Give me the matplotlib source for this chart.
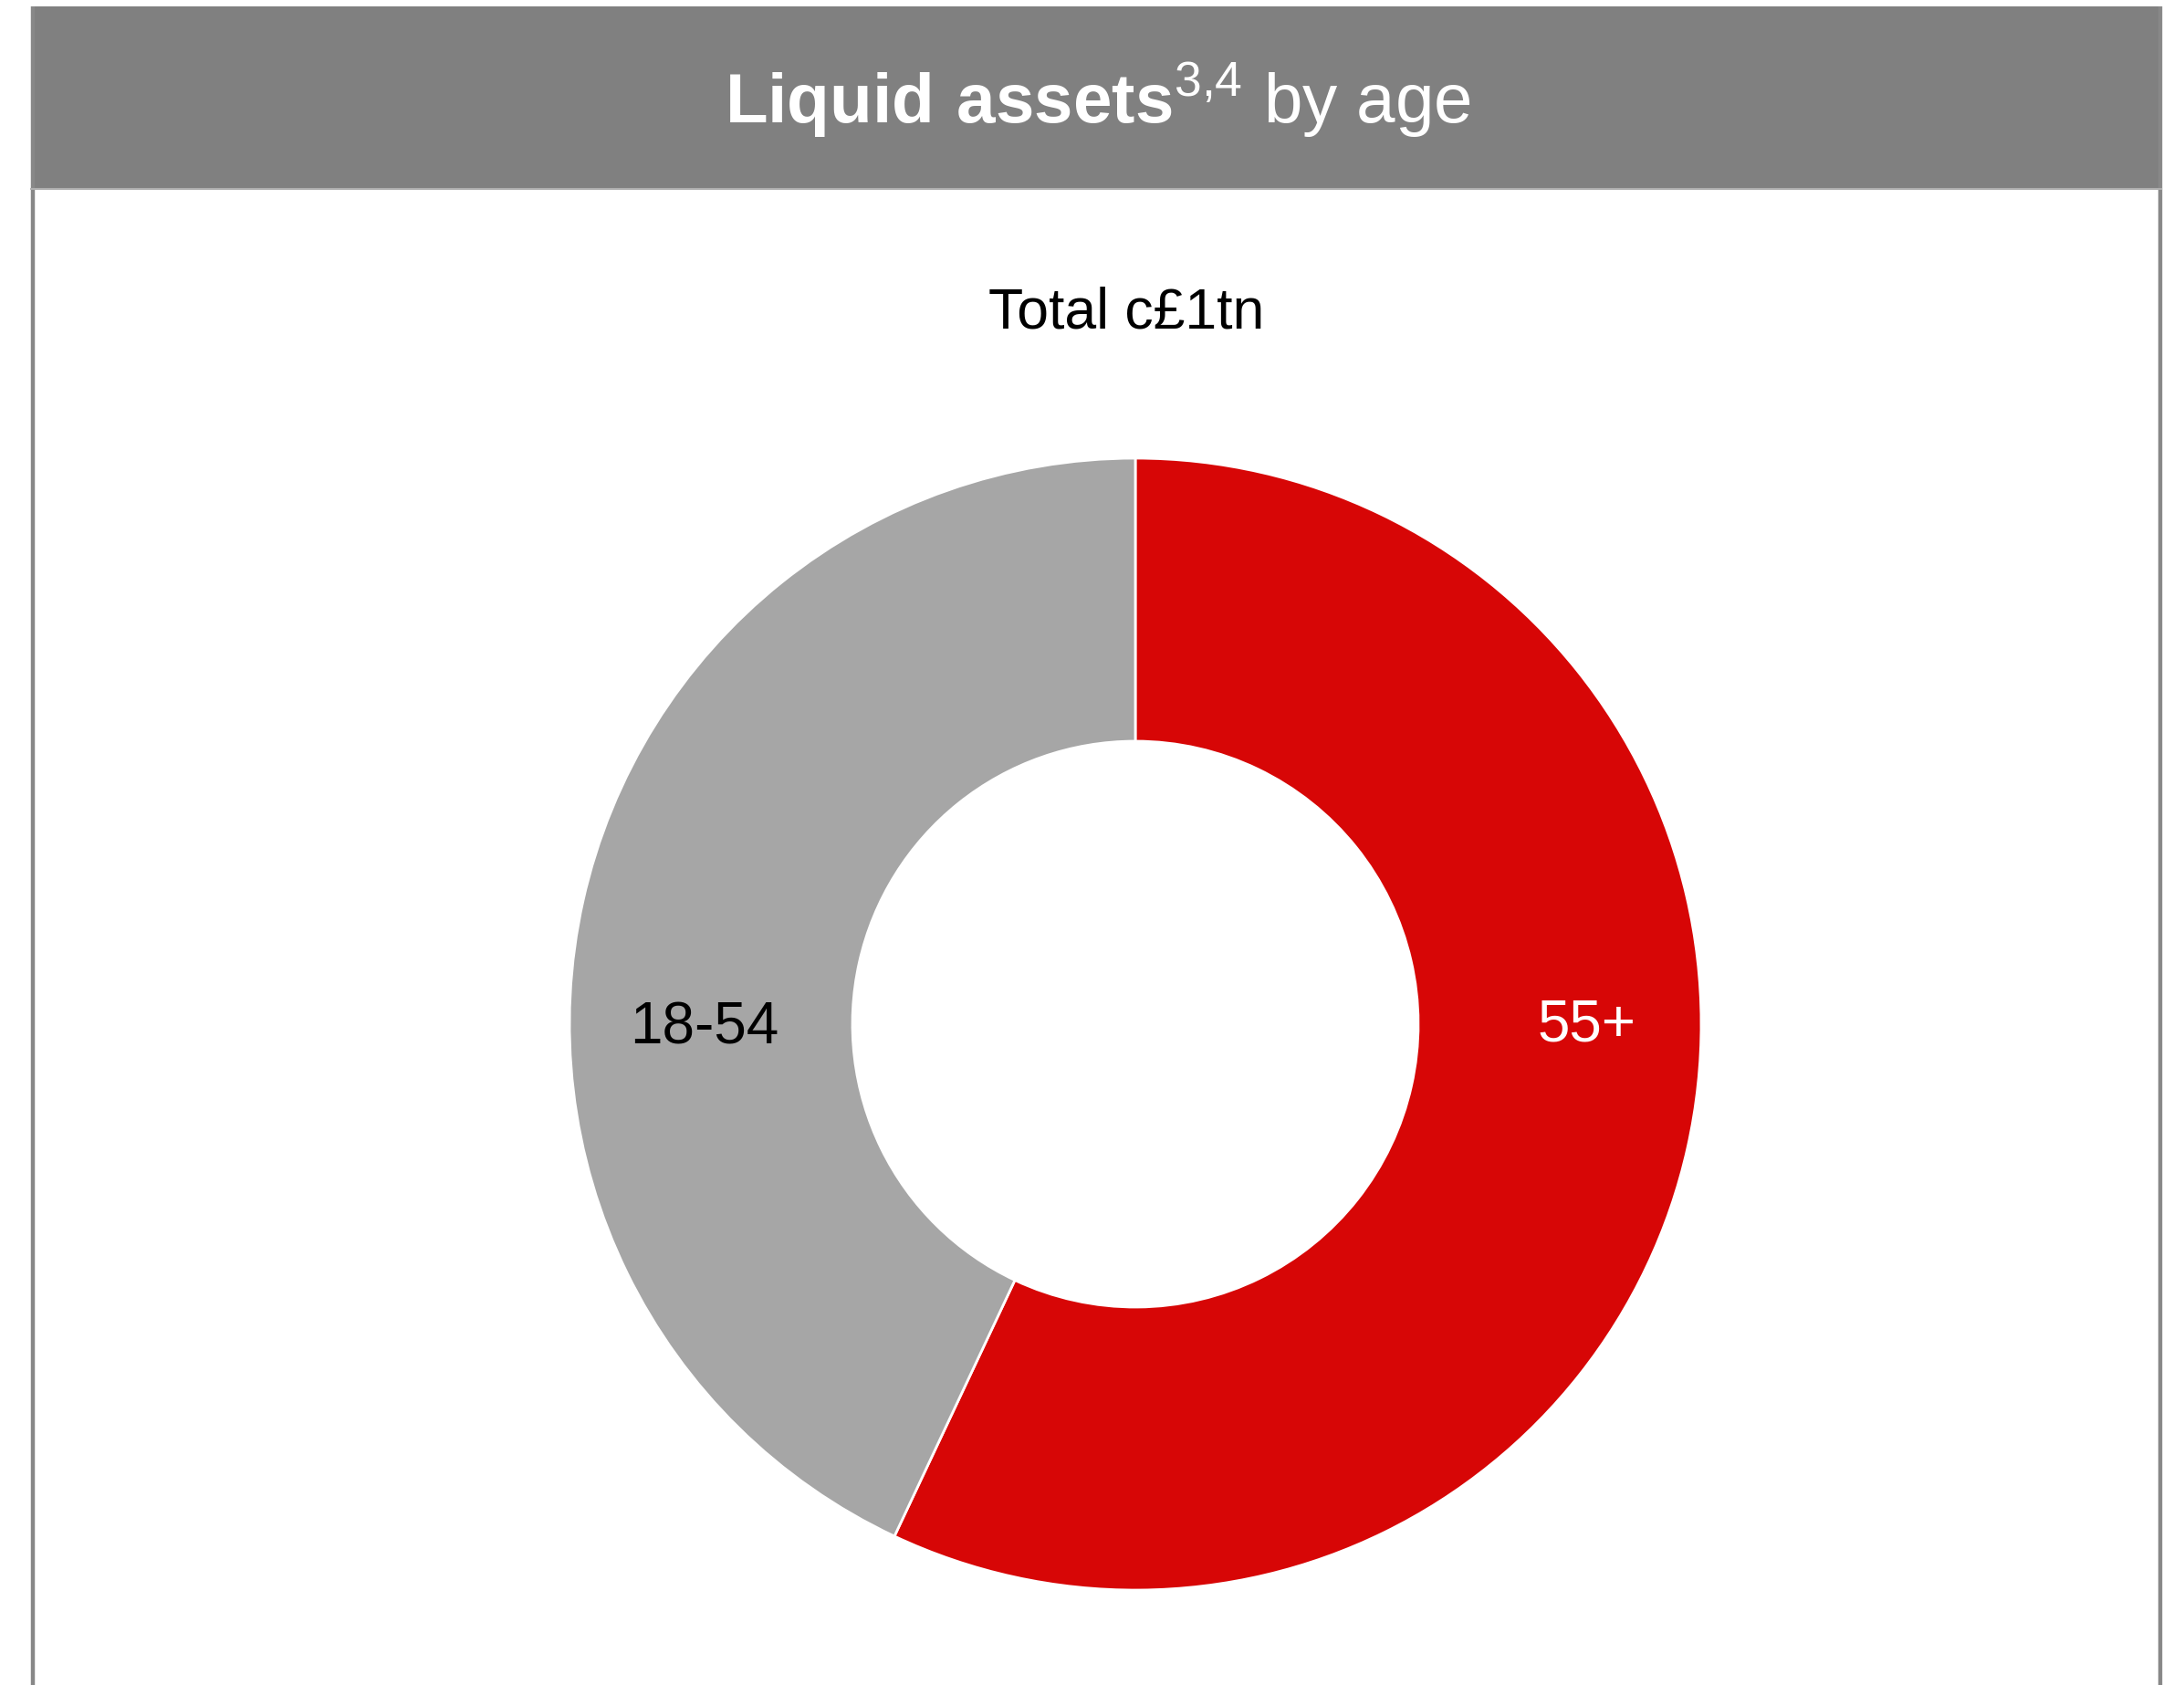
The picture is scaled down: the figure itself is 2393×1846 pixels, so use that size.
import numpy as np
import matplotlib.pyplot as plt
from matplotlib.patches import Rectangle

plt.rcParams['font.family'] = ['Liberation Sans', 'DejaVu Sans']
plt.rcParams['mathtext.fontset'] = 'custom'
plt.rcParams['mathtext.rm'] = 'Liberation Sans'
plt.rcParams['mathtext.bf'] = 'Liberation Sans:bold'

# shares of liquid assets by age band, clockwise from 12 o'clock
labels = ["55+", "18-54"]
shares = [57, 43]
colors = ["#D70606", "#A6A6A6"]
label_colors = ["white", "black"]
total_text = "Total c£1tn"

W, H = 2393, 1846
fig = plt.figure(figsize=(W / 100, H / 100), dpi=100)

# frame and header band, in pixel coordinates
bg = fig.add_axes([0, 0, 1, 1])
bg.set_xlim(0, W)
bg.set_ylim(H, 0)
bg.axis("off")
bg.add_patch(Rectangle((34, 7), 2333, 201, facecolor="#808080", edgecolor="none"))
bg.plot([35.5, 35.5], [7, H], color="#888888", lw=3.2, solid_capstyle="butt")
bg.plot([2367, 2367], [7, H], color="#888888", lw=3.2, solid_capstyle="butt")
bg.plot([34, 2368], [207, 207], color="#B0B0B0", lw=1.5)

bg.text(1203, 136, r"$\mathbf{Liquid\ assets}^{\mathrm{3{,}4}}$ by age", color="white",
        fontsize=55, ha="center", va="baseline")
bg.text(1234, 359, total_text, color="black", fontsize=45, ha="center", va="baseline")

# donut
cx, cy, r = 1244, 1122, 620
ax = fig.add_axes([(cx - r) / W, (H - cy - r) / H, 2 * r / W, 2 * r / H])
wedges, _ = ax.pie(shares, colors=colors, startangle=90, counterclock=False,
                   radius=1.0, wedgeprops=dict(width=0.5, edgecolor="white", linewidth=2))
ax.set_xlim(-1, 1)
ax.set_ylim(-1, 1)
ax.set_aspect("equal")
ax.axis("off")

ax.text(0.798, -0.002, labels[0], color=label_colors[0], fontsize=46, ha="center", va="center")
ax.text(-0.762, -0.008, labels[1], color=label_colors[1], fontsize=46, ha="center", va="center")

fig.savefig("out.png", dpi=100, facecolor="white")
